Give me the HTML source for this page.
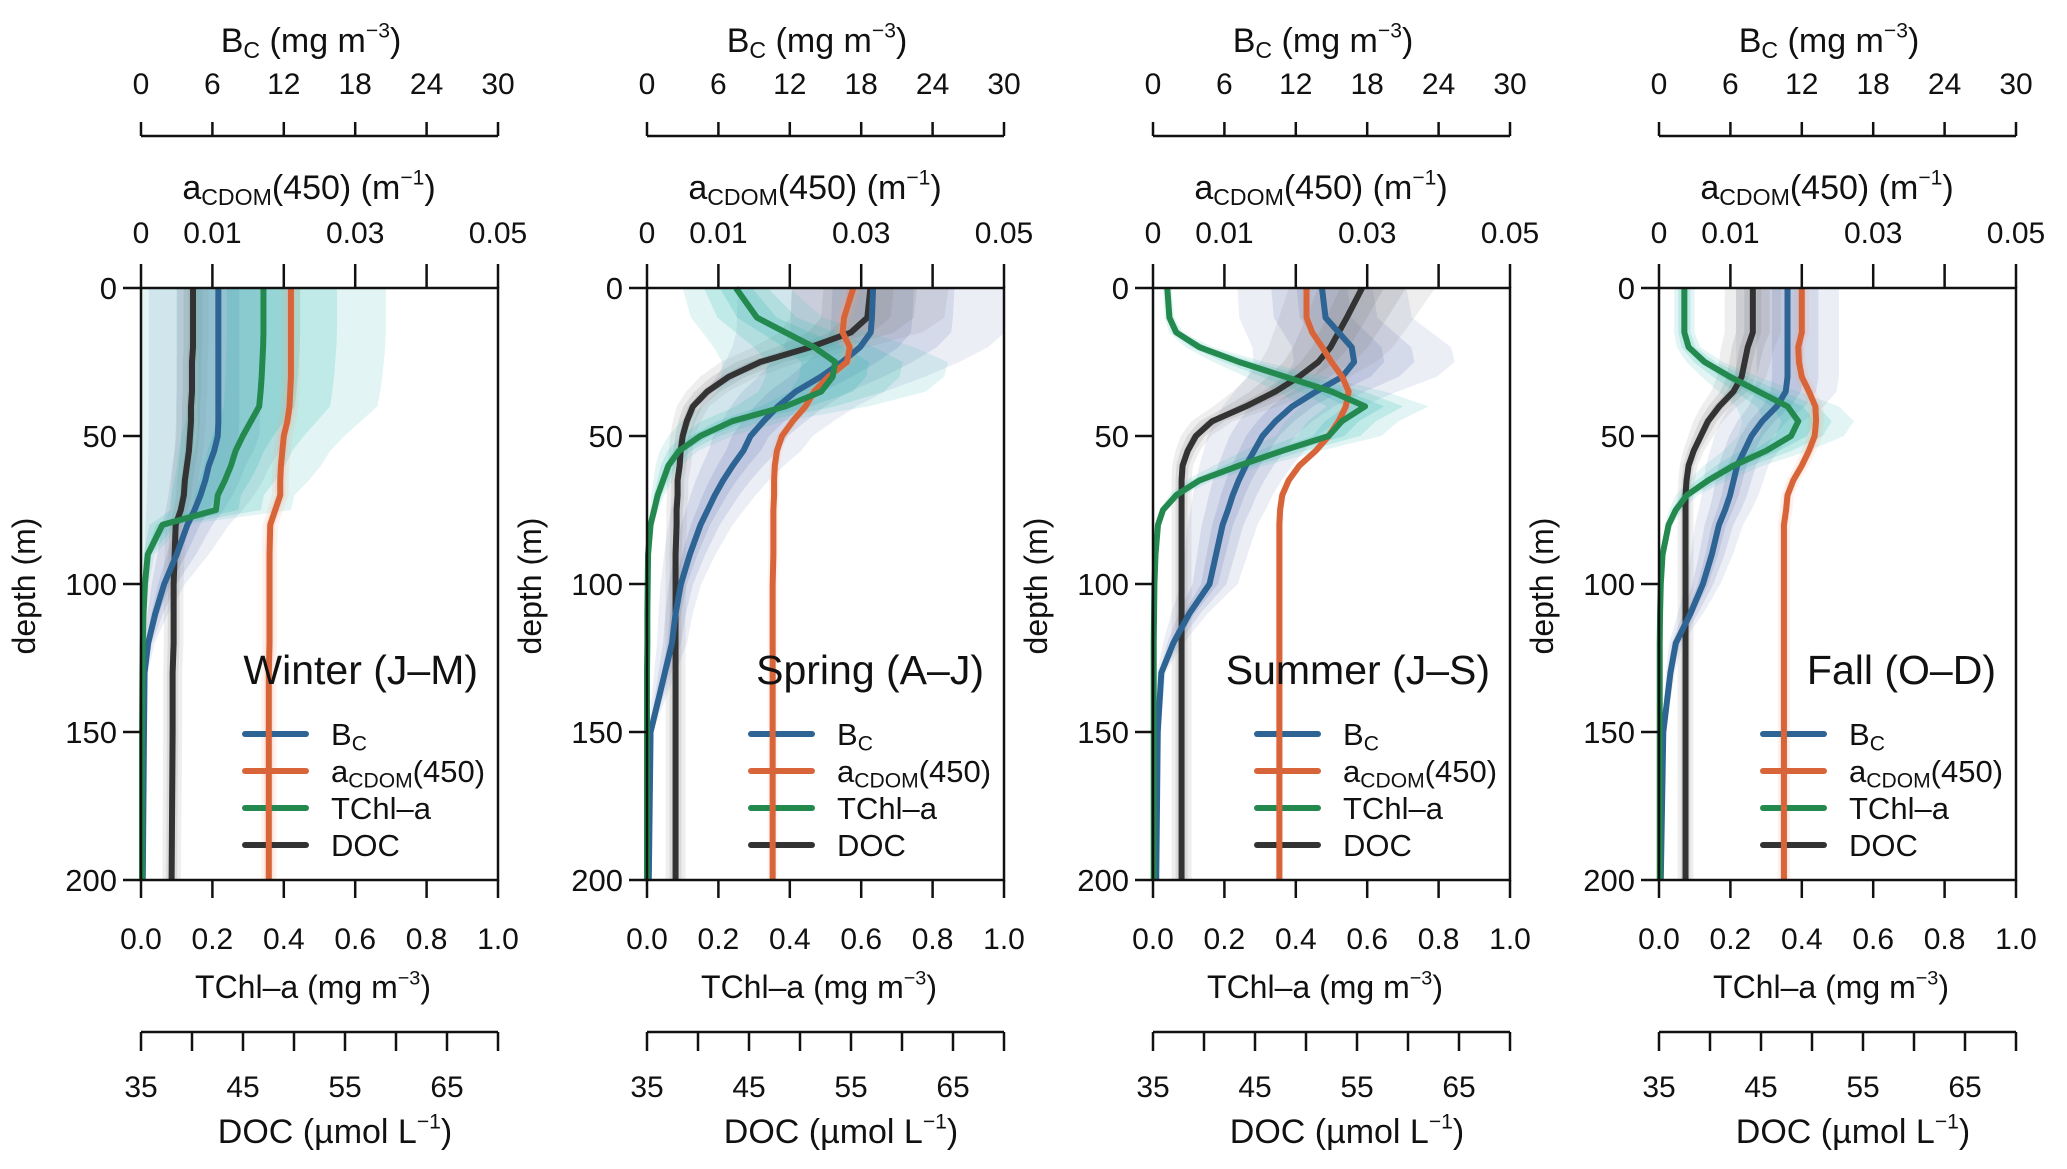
<!DOCTYPE html>
<html><head><meta charset="utf-8"><style>
html,body{margin:0;padding:0;background:#fff;}
svg{display:block;font-family:"Liberation Sans",Arial,sans-serif;}
</style></head><body>
<svg id="chart" width="2067" height="1169" viewBox="0 0 2067 1169" xmlns="http://www.w3.org/2000/svg"></svg>
<script>
// ---- data ----
const seasons = ["Winter (J\u2013M)", "Spring (A\u2013J)", "Summer (J\u2013S)", "Fall (O\u2013D)"];
const depths = [0,10,15,20,25,30,35,40,45,50,55,60,65,70,75,80,90,100,110,120,130,150,200];
const bcTicks = [0,6,12,18,24,30];
const acdomTicks = [0,0.01,0.02,0.03,0.04,0.05];
const acdomTickLabels = ["0","0.01","","0.03","","0.05"];
const tchlTicks = [0,0.2,0.4,0.6,0.8,1.0];
const tchlTickLabels = ["0.0","0.2","0.4","0.6","0.8","1.0"];
const docTicks = [35,40,45,50,55,60,65,70];
const docTickLabels = ["35","","45","","55","","65",""];
const depthTicks = [0,50,100,150,200];

const bcWinter = [6.5,6.5,6.5,6.5,6.5,6.5,6.5,6.5,6.5,6.45,6.15,5.7,5.4,5.0,4.5,3.9,3.0,1.95,1.2,0.6,0.3,0.25,0.15];
const acdomWinter = [0.021,0.021,0.021,0.021,0.021,0.021,0.0209,0.0208,0.0205,0.020,0.0198,0.0196,0.0195,0.0195,0.0188,0.0181,0.018,0.018,0.018,0.018,0.0179,0.0179,0.0179];
const tchlWinter = [0.343,0.343,0.343,0.342,0.34,0.338,0.335,0.331,0.308,0.285,0.265,0.252,0.235,0.215,0.21,0.06,0.019,0.011,0.007,0.005,0.004,0.003,0.003];
const docWinter = [40.1,40.1,40.1,40.1,40.0,40.0,40.0,39.9,39.9,39.8,39.7,39.5,39.3,39.2,38.9,38.4,38.3,38.2,38.2,38.2,38.1,38.1,38.0];

const bcSpring = [19.0,18.9,18.8,17.9,16.4,14.6,12.5,11.0,9.8,8.7,8.1,7.2,6.4,5.7,5.1,4.5,3.6,2.85,2.4,2.1,1.5,0.3,0.15];
const acdomSpring = [0.0289,0.0276,0.0274,0.0284,0.028,0.0254,0.0234,0.0222,0.0204,0.0189,0.0182,0.0179,0.0178,0.0178,0.0177,0.0177,0.0177,0.0176,0.0176,0.0176,0.0176,0.0176,0.0176];
const tchlSpring = [0.249,0.308,0.388,0.468,0.527,0.52,0.488,0.388,0.239,0.149,0.09,0.06,0.045,0.03,0.02,0.01,0.003,0.002,0.001,0.001,0,0,0];
const docSpring = [56.9,56.6,55.0,51.0,46.1,43.0,40.9,39.5,38.9,38.5,38.3,38.2,38.0,38.0,37.9,37.9,37.8,37.8,37.8,37.8,37.8,37.8,37.8];

const bcSummer = [14.2,14.5,15.6,16.7,16.9,15.9,13.7,11.7,10.3,9.2,8.5,7.8,7.2,6.7,6.3,5.85,5.3,4.75,3.05,1.7,0.7,0.4,0.27];
const acdomSummer = [0.0215,0.0215,0.0223,0.0237,0.025,0.0265,0.0274,0.027,0.026,0.0246,0.0228,0.0205,0.019,0.0181,0.0178,0.0177,0.0177,0.0177,0.0177,0.0177,0.0177,0.0177,0.0177];
const tchlSummer = [0.04,0.046,0.065,0.13,0.241,0.371,0.501,0.594,0.529,0.492,0.362,0.241,0.13,0.065,0.028,0.014,0.007,0.004,0.003,0.002,0.002,0.002,0.002];
const docSummer = [55.5,54.0,53.2,52.4,51.2,49.3,47.0,44.1,40.8,39.2,38.4,37.9,37.8,37.8,37.8,37.8,37.8,37.8,37.8,37.8,37.8,37.8,37.8];

const bcFall = [10.8,10.8,10.8,10.8,10.8,10.8,10.65,9.9,8.67,7.77,7.17,6.57,6.27,5.97,5.55,5.04,4.44,3.69,2.64,1.41,0.96,0.36,0.15];
const acdomFall = [0.02,0.02,0.02,0.0195,0.0196,0.02,0.021,0.0219,0.022,0.0218,0.021,0.02,0.0188,0.018,0.0178,0.0175,0.0175,0.0175,0.0175,0.0175,0.0175,0.0175,0.0175];
const tchlFall = [0.071,0.071,0.071,0.083,0.128,0.199,0.279,0.36,0.39,0.37,0.3,0.209,0.138,0.078,0.047,0.027,0.01,0.005,0.003,0.002,0.002,0.002,0.002];
const docFall = [44.2,44.2,44.2,43.7,43.4,43.1,42.3,40.9,39.8,39.1,38.4,37.9,37.7,37.6,37.6,37.6,37.6,37.6,37.6,37.6,37.6,37.6,37.6];

// relative spread of shaded envelopes [bc, acdom, tchl, doc]
const spreadWinter = [0.9,0.06,1.0,0.3];
const spreadSpring = [0.6,0.04,0.6,0.35];
const spreadSummer = [0.5,0.03,0.3,0.35];
const spreadFall = [0.4,0.05,0.4,0.3];

const panelData = [
  {bc:bcWinter, ac:acdomWinter, tc:tchlWinter, doc:docWinter, sp:spreadWinter},
  {bc:bcSpring, ac:acdomSpring, tc:tchlSpring, doc:docSpring, sp:spreadSpring},
  {bc:bcSummer, ac:acdomSummer, tc:tchlSummer, doc:docSummer, sp:spreadSummer},
  {bc:bcFall, ac:acdomFall, tc:tchlFall, doc:docFall, sp:spreadFall}
];

// ---- layout ----
const NS = "http://www.w3.org/2000/svg";
const svg = document.getElementById("chart");
const panelLefts = [141,647,1153,1659];
const PW = 357, Y0 = 288, Y1 = 880;
const COL = {bc:"#2d6494", ac:"#d8653a", tc:"#24894f", doc:"#333333"};
const BAND = {bc:"#7f8cc0", ac:"#f4a88c", tc:"#3dbdb3", doc:"#8a8a8a"};

function el(tag, attrs, parent){
  const e = document.createElementNS(NS, tag);
  for (const k in attrs) e.setAttribute(k, attrs[k]);
  (parent||svg).appendChild(e);
  return e;
}
function txt(x,y,s,size,anchor,parent){
  const t = el("text",{x:x,y:y,"font-size":size,"text-anchor":anchor||"middle",fill:"#111"},parent);
  t.textContent = s;
  return t;
}
function richTitle(x,y,parts,size,anchor,parent){
  const t = el("text",{x:x,y:y,"font-size":size,"text-anchor":anchor||"middle",fill:"#111"},parent);
  parts.forEach(p=>{
    const s = document.createElementNS(NS,"tspan");
    s.textContent = p[0];
    if (p[1]==="sub"){ s.setAttribute("font-size", size*0.68); s.setAttribute("dy", size*0.18); }
    else if (p[1]==="sup"){ s.setAttribute("font-size", size*0.62); s.setAttribute("dy", -size*0.42); }
    else if (p[1]==="back"){ s.setAttribute("dy", p[2]); }
    t.appendChild(s);
  });
  return t;
}

const yScale = d => Y0 + (d/200)*(Y1-Y0);
const fracFns = {
  bc: v => v/30,
  ac: v => v/0.05,
  tc: v => v/1,
  doc: v => (v-35)/35
};

panelData.forEach((pd, i) => {
  const L = panelLefts[i];
  const xf = f => L + f*PW;
  const g = el("g",{});
  
  

  const cp = el("clipPath",{id:"clip"+i}, g);
  el("rect",{x:L,y:Y0,width:PW,height:Y1-Y0},cp);
  const plot = el("g",{"clip-path":"url(#clip"+i+")"},g);

  const keys = ["doc","bc","ac","tc"];
  const spIdx = {bc:0, ac:1, tc:2, doc:3};
  const series = {bc:pd.bc, ac:pd.ac, tc:pd.tc, doc:pd.doc};
  ["bc","doc","tc","ac"].forEach(k=>{
    const vals = series[k].map(fracFns[k]);
    const a = pd.sp[spIdx[k]];
    [[a,0.15],[a*0.6,0.2],[a*0.3,0.25]].forEach(([s,op])=>{
      let pts = depths.map((d,j)=> xf(Math.min(1.2,vals[j]*(1+s))) + "," + yScale(d));
      let back = depths.slice().reverse().map((d,j)=>{
        const v = vals[depths.length-1-j];
        return xf(Math.max(0,v*(1-s))) + "," + yScale(d);
      });
      const band = el("polygon",{points:pts.concat(back).join(" "),fill:BAND[k],"fill-opacity":op,stroke:"none"},plot);
      
      
    });
  });

  // legend
  const legNames = [[["B"],["C","sub"]],[["a"],["CDOM","sub"],["(450)","back",-31*0.18]],[["TChl\u2013a"]],[["DOC"]]];
  const legKeys = ["bc","ac","tc","doc"];
  const legYs = [734,771,808,845];
  const leg = el("g",{},g);
  
  
  legKeys.forEach((k,j)=>{
    const ln = el("line",{x1:L+104,x2:L+165,y1:legYs[j],y2:legYs[j],stroke:COL[k],"stroke-width":6,"stroke-linecap":"round"},leg);
    
    
    const t = richTitle(L+190,legYs[j]+11,legNames[j],31,"start",leg);
    
    
  });

  keys.forEach(k=>{
    const vals = series[k].map(fracFns[k]);
    const pts = depths.map((d,j)=> xf(vals[j]) + "," + yScale(d)).join(" ");
    const pl = el("polyline",{points:pts,fill:"none",stroke:COL[k],"stroke-width":6,"stroke-linejoin":"round"},g);
    
    
  });

  const fr = el("rect",{x:L,y:Y0,width:PW,height:Y1-Y0,fill:"none",stroke:"#111","stroke-width":2.5},g);
  
  

  depthTicks.forEach(d=>{
    el("line",{x1:L-18,x2:L,y1:yScale(d),y2:yScale(d),stroke:"#111","stroke-width":2.5},g);
    const t = txt(L-24,yScale(d)+11,String(d),31,"end",g);
    
    
  });
  const dt = el("text",{x:0,y:0,"font-size":32,"text-anchor":"middle",fill:"#111",transform:"translate("+(L-106)+",586) rotate(-90)"},g);
  dt.textContent = "depth (m)";
  
  

  acdomTicks.forEach((v,j)=>{
    const x = xf(v/0.05);
    el("line",{x1:x,x2:x,y1:264,y2:Y0,stroke:"#111","stroke-width":2.5},g);
    if (acdomTickLabels[j]) {
      const t = txt(x,243,acdomTickLabels[j],30,"middle",g);
      
      
    }
  });
  const at = richTitle(L+168,199,[["a"],["CDOM","sub"],["(450) (m","back",-34*0.18],["\u22121","sup"],[")","back",34*0.42]],34,"middle",g);
  
  

  el("line",{x1:L,x2:L+PW,y1:136,y2:136,stroke:"#111","stroke-width":2.5},g);
  bcTicks.forEach(v=>{
    const x = xf(v/30);
    el("line",{x1:x,x2:x,y1:122,y2:136,stroke:"#111","stroke-width":2.5},g);
    const t = txt(x,94,String(v),30,"middle",g);
    
    
  });
  const bt = richTitle(L+170,52,[["B"],["C","sub"],[" (mg m","back",-34*0.18],["\u22123","sup"],[")","back",34*0.42]],34,"middle",g);
  
  

  tchlTicks.forEach((v,j)=>{
    const x = xf(v);
    el("line",{x1:x,x2:x,y1:Y1,y2:Y1+18,stroke:"#111","stroke-width":2.5},g);
    const t = txt(x,949,tchlTickLabels[j],30,"middle",g);
    
    
  });
  const tt = richTitle(L+172,998,[["TChl\u2013a (mg m"],["\u22123","sup"],[")","back",32*0.42]],32,"middle",g);
  
  

  el("line",{x1:L,x2:L+PW,y1:1032,y2:1032,stroke:"#111","stroke-width":2.5},g);
  docTicks.forEach((v,j)=>{
    const x = xf((v-35)/35);
    el("line",{x1:x,x2:x,y1:1032,y2:1051,stroke:"#111","stroke-width":2.5},g);
    if (docTickLabels[j]) {
      const t = txt(x,1097,docTickLabels[j],30,"middle",g);
      
      
    }
  });
  const dct = richTitle(L+194,1143,[["DOC (\u00b5mol L"],["\u22121","sup"],[")","back",34*0.42]],34,"middle",g);
  
  

  const sl = txt(L+337,684,seasons[i],41,"end",g);
  
  
});
</script>
</body></html>
